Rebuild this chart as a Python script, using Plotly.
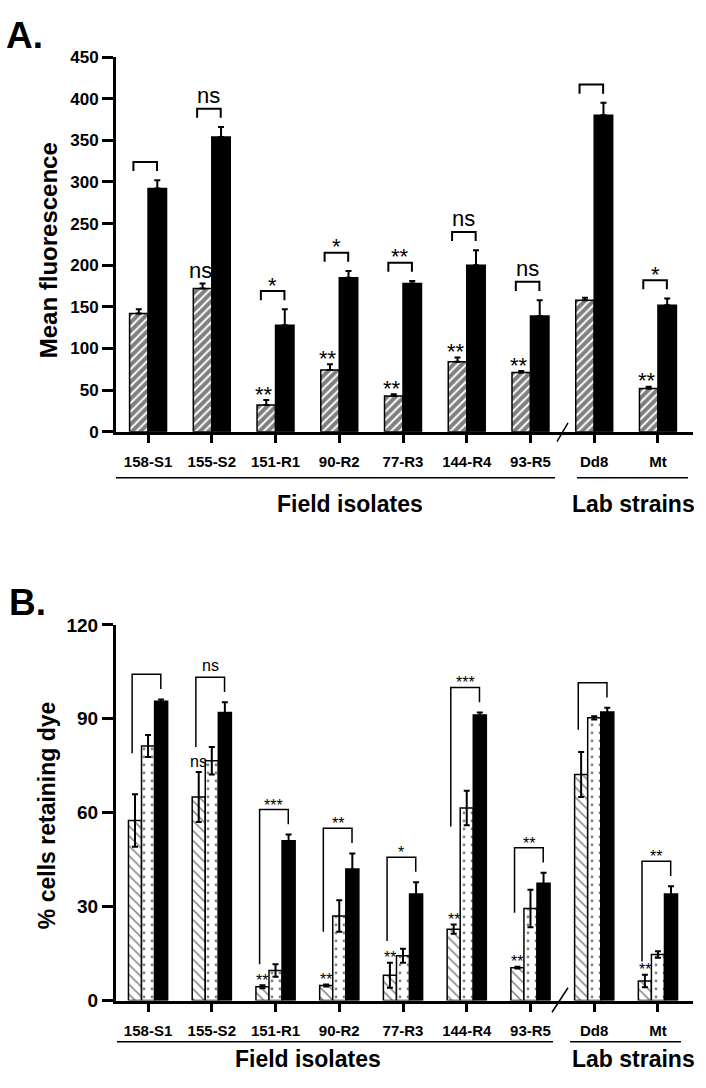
import plotly.graph_objects as go

# ---------------- data ----------------
categories = ["158-S1", "155-S2", "151-R1", "90-R2", "77-R3", "144-R4", "93-R5", "Dd8", "Mt"]

# Panel A: mean fluorescence
A_hatched = [142, 172, 32, 74, 43, 84, 71, 158, 52]
A_hatched_err = [5, 6, 6, 7, 2, 5, 2, 3, 2]
A_black = [292, 354, 128, 185, 178, 200, 139, 380, 152]
A_black_err = [10, 12, 19, 8, 3, 18, 19, 15, 8]
A_hatched_sig = ["", "ns", "**", "**", "**", "**", "**", "", "**"]
A_pair_sig = ["", "ns", "*", "*", "**", "ns", "ns", "", "*"]

# Panel B: % cells retaining dye
B_hatched = [57.5, 65, 4.4, 4.8, 8.1, 22.8, 10.5, 72.2, 6.2]
B_hatched_err = [8.4, 8, 0.5, 0.3, 4, 1.5, 0.3, 7.2, 2]
B_dotted = [81.3, 76.6, 9.6, 27, 14.3, 61.5, 29.4, 90.3, 14.7]
B_dotted_err = [3.5, 4.4, 2, 5, 2.2, 5.5, 6, 0.5, 1]
B_black = [95.6, 92, 51, 42, 34, 91.2, 37.5, 92.2, 34]
B_black_err = [0.6, 3.3, 2, 5, 3.8, 0.8, 3.3, 1.3, 2.5]
B_hatched_sig = ["", "ns", "**", "**", "**", "**", "**", "", "**"]
B_bracket_sig = ["", "ns", "***", "**", "*", "***", "**", "", "**"]
# lower end of the long left leg of each bracket in panel B (annotation geometry)
B_bracket_left_end = [79, 81, 11.6, 22, 19, 55.6, 28, 86.5, 12.5]

# ---------------- layout constants ----------------
W, H = 706, 1088
x_idx = list(range(len(categories)))
XR = [-0.503, 8.55]
XDOM = [116 / W, 693 / W]
YDOM_A = [1 - 430 / H, 1 - 48 / H]
YDOM_B = [1 - 1010 / H, 1 - 627 / H]

def py(px):
    return 1 - px / H

def px_x(px):
    return px / W

BOLD = "Liberation Sans, Arial, sans-serif"
NARROW = "Liberation Sans Narrow, Arial Narrow, Liberation Sans, Arial, sans-serif"

fig = go.Figure()

# ---------------- Panel A bars ----------------
wA = 0.29
fig.add_trace(go.Bar(
    x=x_idx, y=A_hatched, width=wA, offset=-wA,
    marker=dict(color="white", line=dict(color="black", width=1.5),
                pattern=dict(shape="/", fgcolor="black", bgcolor="white", size=6, solidity=0.68)),
    error_y=dict(type="data", array=A_hatched_err, arrayminus=[0] * 9, symmetric=False,
                 color="black", thickness=2, width=3),
    xaxis="x", yaxis="y", showlegend=False))
fig.add_trace(go.Bar(
    x=x_idx, y=A_black, width=wA, offset=0,
    marker=dict(color="black", line=dict(color="black", width=1.5)),
    error_y=dict(type="data", array=A_black_err, arrayminus=[0] * 9, symmetric=False,
                 color="black", thickness=2, width=3),
    xaxis="x", yaxis="y", showlegend=False))

# ---------------- Panel B bars ----------------
wB = 0.205
for vals, errs, style in [
    (B_hatched, B_hatched_err, dict(shape="\\", fgcolor="black", bgcolor="white", size=7, solidity=0.22)),
    (B_dotted, B_dotted_err, dict(shape=".", fgcolor="black", bgcolor="white", size=8, solidity=0.1)),
    (B_black, B_black_err, None),
]:
    k = len(fig.data) - 2
    off = -1.5 * wB + k * wB
    marker = dict(color="black" if style is None else "white", line=dict(color="black", width=1.5))
    if style is not None:
        marker["pattern"] = style
    fig.add_trace(go.Bar(
        x=x_idx, y=vals, width=wB, offset=off, marker=marker,
        error_y=dict(type="data", array=errs, color="black", thickness=2, width=3),
        xaxis="x2", yaxis="y2", showlegend=False))

shapes = []
ann = []

def sig_text(xv, yv, txt, fs, d_ast, d_ns, xref, yref, family):
    if not txt:
        return
    shift = d_ast - 0.28 * fs if "*" in txt else d_ns
    ann.append(dict(x=xv, y=yv, xref=xref, yref=yref, text=txt, showarrow=False,
                    yanchor="middle", xanchor="center", yshift=shift,
                    font=dict(family=family, size=fs, color="black")))

# ---------------- Panel A annotations ----------------
for i in x_idx:
    top = A_black[i] + A_black_err[i]
    br_top = top + 22
    leg = br_top - 11
    xl, xr = i - 0.23, i + 0.14
    shapes.append(dict(type="path", xref="x", yref="y",
                       path=f"M {xl},{leg} L {xl},{br_top} L {xr},{br_top} L {xr},{leg}",
                       line=dict(color="black", width=2)))
    sig_text((xl + xr) / 2, br_top, A_pair_sig[i], 22, 12, 13, "x", "y", BOLD)
    sig_text(i - wA / 2 - 0.03, A_hatched[i] + A_hatched_err[i], A_hatched_sig[i], 22, 12, 13, "x", "y", BOLD)

# ---------------- Panel B annotations ----------------
for i in x_idx:
    top = B_black[i] + B_black_err[i]
    br_top = top + 8
    right_leg = br_top - 4.7
    xl, xr = i - 0.25, i + 0.2
    shapes.append(dict(type="path", xref="x2", yref="y2",
                       path=f"M {xl},{B_bracket_left_end[i]} L {xl},{br_top} L {xr},{br_top} L {xr},{right_leg}",
                       line=dict(color="black", width=1.5)))
    sig_text((xl + xr) / 2, br_top, B_bracket_sig[i], 16, 9, 12, "x2", "y2", NARROW)
    sig_text(i - wB, B_hatched[i] + B_hatched_err[i], B_hatched_sig[i], 16, 9.5, 11, "x2", "y2", NARROW)

# ---------------- group underlines, slashes ----------------
for (x0, x1, y) in [(116, 555, 477), (577, 688, 477), (117, 553, 1052), (570, 681, 1052)]:
    shapes.append(dict(type="line", xref="paper", yref="paper", x0=px_x(x0), x1=px_x(x1),
                       y0=py(y), y1=py(y), line=dict(color="black", width=1.5)))
for (x0, y0, x1, y1) in [(557, 440, 568, 421), (552, 1022, 568, 997)]:
    shapes.append(dict(type="line", xref="paper", yref="paper", x0=px_x(x0), x1=px_x(x1),
                       y0=py(y0), y1=py(y1), line=dict(color="black", width=1.5)))

# group labels
for (txt, cx, cy) in [("Field isolates", 350, 504), ("Lab strains", 633, 504),
                      ("Field isolates", 308, 1070), ("Lab strains", 633, 1070)]:
    ann.append(dict(x=px_x(cx), y=py(cy), xref="paper", yref="paper", text=txt, showarrow=False,
                    xanchor="center", yanchor="middle",
                    font=dict(family=BOLD, size=23, color="black", weight="bold")))

# y titles
ann.append(dict(x=px_x(48), y=py(245), xref="paper", yref="paper", text="Mean fluorescence",
                textangle=-90, showarrow=False, xanchor="center", yanchor="middle",
                font=dict(family=BOLD, size=24, color="black", weight="bold")))
ann.append(dict(x=px_x(47), y=py(821), xref="paper", yref="paper", text="% cells retaining dye",
                textangle=-90, showarrow=False, xanchor="center", yanchor="middle",
                font=dict(family=BOLD, size=23, color="black", weight="bold")))

# panel letters
ann.append(dict(x=px_x(4), y=py(3), xref="paper", yref="paper", text="A.", showarrow=False,
                xanchor="left", yanchor="top",
                font=dict(family=BOLD, size=37, color="black", weight="bold")))
ann.append(dict(x=px_x(7), y=py(581), xref="paper", yref="paper", text="B.", showarrow=False,
                xanchor="left", yanchor="top",
                font=dict(family=BOLD, size=37, color="black", weight="bold")))

xaxis_common = dict(range=XR, domain=XDOM, tickmode="array", tickvals=x_idx, ticktext=categories,
                    showline=True, linecolor="black", linewidth=3, ticks="outside", ticklen=8,
                    tickwidth=3, tickcolor="black", showgrid=False, zeroline=False,
                    tickfont=dict(family=NARROW, size=15, color="black", weight="bold"),
                    ticklabelstandoff=6, fixedrange=True)
yaxis_common = dict(showline=True, linecolor="black", linewidth=3, ticks="outside", ticklen=11,
                    tickwidth=3, tickcolor="black", showgrid=False, zeroline=False, fixedrange=True)

fig.update_layout(
    width=W, height=H, margin=dict(l=0, r=0, t=0, b=0),
    paper_bgcolor="white", plot_bgcolor="white",
    barmode="overlay",
    xaxis=dict(**xaxis_common, anchor="y"),
    yaxis=dict(**yaxis_common, domain=YDOM_A, range=[0, 450], tickvals=list(range(0, 451, 50)),
               anchor="x", tickfont=dict(family=BOLD, size=17, color="black", weight="bold")),
    xaxis2=dict(**xaxis_common, anchor="y2"),
    yaxis2=dict(**yaxis_common, domain=YDOM_B, range=[0, 120], tickvals=[0, 30, 60, 90, 120],
                anchor="x2", tickfont=dict(family=BOLD, size=19, color="black", weight="bold")),
    shapes=shapes, annotations=ann,
)

fig.write_html("out.html", config={"displayModeBar": False},
               post_script="document.body.style.margin='0';document.body.style.padding='0';")
